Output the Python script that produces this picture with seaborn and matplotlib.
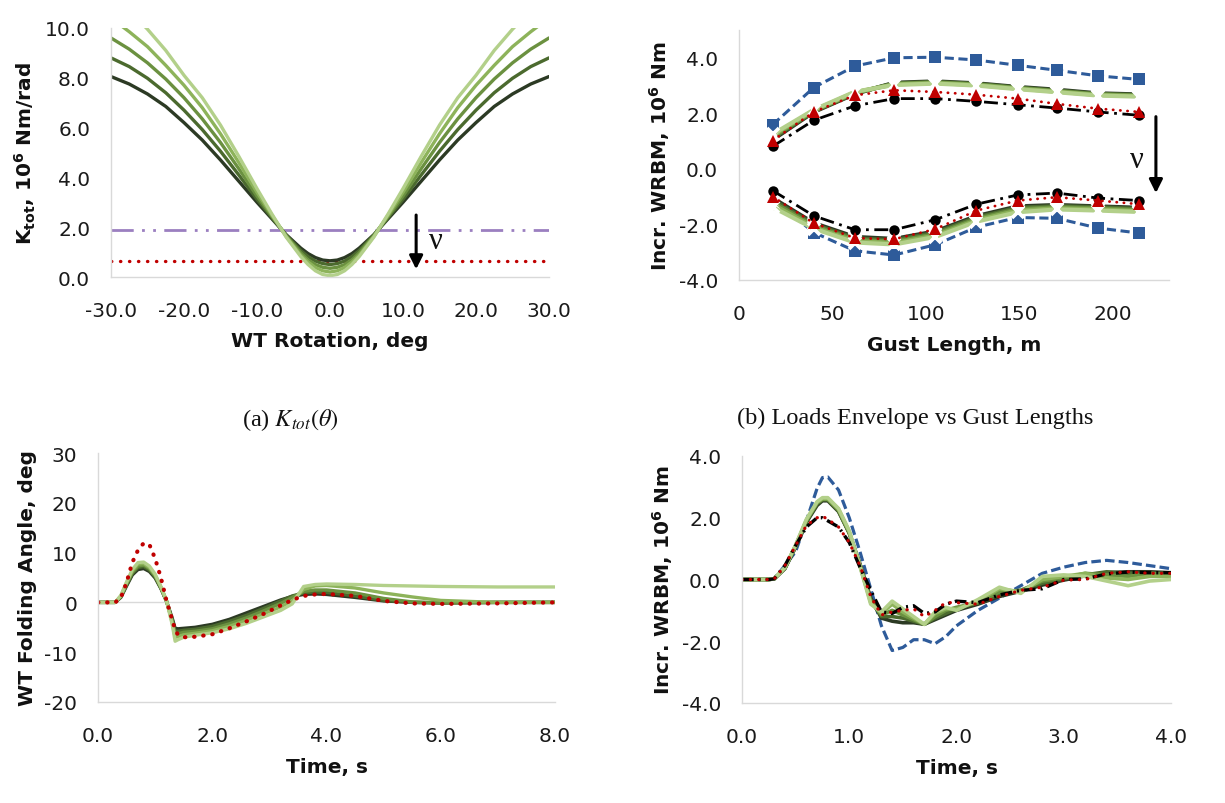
import numpy as np
import pandas as pd
import matplotlib
matplotlib.use("Agg")
import matplotlib.pyplot as plt
import seaborn as sns
from matplotlib.ticker import FormatStrFormatter

sns.set_theme(style="white")
plt.rcParams['font.family'] = ['DejaVu Sans']
plt.rcParams['axes.unicode_minus'] = False
plt.rcParams['mathtext.fontset'] = 'dejavusans'

GREENS = ['#2c3a24', '#4b6a2e', '#6b9140', '#8db35a', '#b3d08a']
RED = '#c00000'
BLUE = '#2e5b9a'
PURPLE = '#9b7fc0'

# ---------------- (a) K_tot(theta) ----------------
theta = [-30, -27.5, -25, -22.5, -20, -17.5, -15, -12.5, -10, -8, -6, -4, -3, -2, -1, 0,
         1, 2, 3, 4, 6, 8, 10, 12.5, 15, 17.5, 20, 22.5, 25, 27.5, 30]
k_tot_0 = [8.05, 7.75, 7.35, 6.85, 6.20, 5.50, 4.70, 3.85, 3.00, 2.35, 1.70, 1.16, 0.94, 0.78, 0.68, 0.65,
           0.68, 0.78, 0.94, 1.16, 1.70, 2.35, 3.00, 3.85, 4.70, 5.50, 6.20, 6.85, 7.35, 7.75, 8.05]
k_tot_1 = [8.80, 8.45, 7.98, 7.40, 6.70, 5.92, 5.05, 4.10, 3.12, 2.40, 1.68, 1.06, 0.82, 0.64, 0.54, 0.50,
           0.54, 0.64, 0.82, 1.06, 1.68, 2.40, 3.12, 4.10, 5.05, 5.92, 6.70, 7.40, 7.98, 8.45, 8.80]
k_tot_2 = [9.60, 9.15, 8.60, 7.95, 7.20, 6.35, 5.40, 4.35, 3.25, 2.45, 1.66, 0.97, 0.69, 0.50, 0.39, 0.35,
           0.39, 0.50, 0.69, 0.97, 1.66, 2.45, 3.25, 4.35, 5.40, 6.35, 7.20, 7.95, 8.60, 9.15, 9.60]
k_tot_3 = [10.4, 9.85, 9.25, 8.50, 7.70, 6.80, 5.75, 4.60, 3.40, 2.50, 1.63, 0.88, 0.60, 0.38, 0.25, 0.20,
           0.25, 0.38, 0.60, 0.88, 1.63, 2.50, 3.40, 4.60, 5.75, 6.80, 7.70, 8.50, 9.25, 9.85, 10.4]
k_tot_4 = [11.35, 10.7, 9.95, 9.10, 8.10, 7.20, 6.10, 4.85, 3.55, 2.55, 1.60, 0.82, 0.50, 0.25, 0.10, 0.05,
           0.10, 0.25, 0.50, 0.82, 1.60, 2.55, 3.55, 4.85, 6.10, 7.20, 8.10, 9.10, 9.95, 10.7, 11.35]
k_const_high = 1.9
k_const_low = 0.64

# ---------------- (b) loads envelope vs gust length ----------------
gust_len = [18, 40, 62, 83, 105, 127, 149, 170, 192, 214]
env_blue_max = [1.59, 2.93, 3.70, 4.00, 4.02, 3.92, 3.73, 3.55, 3.35, 3.22]
env_blue_min = [-1.08, -2.29, -2.95, -3.10, -2.73, -2.10, -1.75, -1.78, -2.13, -2.31]
env_black_max = [0.81, 1.75, 2.27, 2.53, 2.53, 2.43, 2.31, 2.19, 2.05, 1.93]
env_black_min = [-0.78, -1.69, -2.19, -2.19, -1.83, -1.27, -0.94, -0.87, -1.05, -1.14]
env_red_max = [1.02, 2.05, 2.65, 2.83, 2.77, 2.67, 2.53, 2.34, 2.17, 2.05]
env_red_min = [-1.00, -1.95, -2.49, -2.53, -2.17, -1.50, -1.14, -1.02, -1.14, -1.27]
env_green_max = [
    [1.05, 2.05, 2.70, 3.10, 3.15, 3.08, 2.95, 2.85, 2.72, 2.68],
    [1.10, 2.07, 2.72, 3.08, 3.13, 3.06, 2.93, 2.82, 2.70, 2.66],
    [1.15, 2.09, 2.74, 3.06, 3.11, 3.04, 2.91, 2.80, 2.68, 2.64],
    [1.20, 2.11, 2.76, 3.04, 3.09, 3.02, 2.89, 2.78, 2.66, 2.62],
    [1.25, 2.13, 2.78, 3.02, 3.07, 3.00, 2.87, 2.76, 2.64, 2.60],
]
env_green_min = [
    [-1.05, -1.95, -2.45, -2.52, -2.25, -1.70, -1.35, -1.30, -1.35, -1.40],
    [-1.12, -2.00, -2.50, -2.57, -2.30, -1.75, -1.40, -1.34, -1.38, -1.44],
    [-1.20, -2.05, -2.55, -2.62, -2.35, -1.80, -1.45, -1.38, -1.42, -1.48],
    [-1.28, -2.10, -2.60, -2.67, -2.40, -1.85, -1.50, -1.42, -1.46, -1.52],
    [-1.38, -2.15, -2.65, -2.72, -2.45, -1.90, -1.56, -1.46, -1.50, -1.55],
]

# ---------------- (c) WT folding angle time history ----------------
t_fold = [0, 0.3, 0.4, 0.5, 0.6, 0.7, 0.8, 0.9, 1.0, 1.1, 1.2, 1.3, 1.35, 1.4, 1.5, 1.7,
          2.0, 2.3, 2.6, 2.9, 3.2, 3.4, 3.6, 3.8, 4.0, 4.5, 5.0, 5.5, 6.0, 7.0, 8.0]
fold_green = [
    [0, 0, 1.0, 3.3, 5.5, 6.6, 6.8, 6.2, 4.9, 2.8, 0.2, -3.2, -5.2, -5.3, -5.2, -5.0,
     -4.4, -3.4, -2.1, -0.8, 0.5, 1.2, 1.6, 1.7, 1.6, 1.0, 0.3, 0.0, -0.1, 0.0, 0.0],
    [0, 0, 1.1, 3.5, 5.8, 7.0, 7.2, 6.5, 5.1, 2.9, 0.2, -3.5, -5.8, -5.8, -5.6, -5.4,
     -4.8, -3.8, -2.6, -1.2, 0.3, 1.3, 1.9, 2.1, 2.0, 1.3, 0.4, 0.0, -0.1, 0.0, 0.0],
    [0, 0, 1.2, 3.7, 6.0, 7.3, 7.5, 6.8, 5.3, 3.0, 0.3, -3.8, -6.4, -6.3, -6.0, -5.8,
     -5.3, -4.3, -3.1, -1.7, -0.2, 1.0, 2.2, 2.5, 2.5, 1.9, 0.8, 0.1, -0.1, 0.0, 0.0],
    [0, 0, 1.3, 3.9, 6.3, 7.7, 7.8, 7.0, 5.5, 3.1, 0.3, -4.1, -7.0, -6.9, -6.5, -6.2,
     -5.7, -4.8, -3.6, -2.3, -0.9, 0.3, 2.6, 3.3, 3.4, 2.9, 1.9, 1.1, 0.4, 0.0, 0.0],
    [0, 0, 1.4, 4.1, 6.6, 8.0, 8.1, 7.3, 5.7, 3.2, 0.3, -4.5, -7.8, -7.5, -7.0, -6.6,
     -6.1, -5.3, -4.2, -2.9, -1.6, -0.3, 3.2, 3.6, 3.7, 3.6, 3.4, 3.3, 3.2, 3.1, 3.1],
]
fold_red = [0, 0, 0.9, 4.0, 8.0, 10.5, 11.9, 11.6, 8.8, 5.0, 0.3, -3.5, -5.5, -6.5, -7.0, -6.9,
            -6.4, -5.2, -3.8, -2.3, -0.6, 0.5, 1.3, 1.6, 1.7, 1.3, 0.3, -0.2, -0.3, -0.2, 0.0]

# ---------------- (d) WRBM time history ----------------
t_wrbm = [0, 0.25, 0.3, 0.4, 0.5, 0.6, 0.7, 0.75, 0.8, 0.9, 1.0, 1.1, 1.2, 1.3, 1.4, 1.5,
          1.6, 1.7, 1.8, 1.9, 2.0, 2.2, 2.4, 2.6, 2.8, 3.0, 3.2, 3.4, 3.6, 3.8, 4.0]
wrbm_blue = [0, 0, 0.02, 0.45, 0.9, 1.9, 2.95, 3.3, 3.32, 2.9, 2.0, 0.9, -0.3, -1.5, -2.3, -2.2,
             -1.95, -1.95, -2.08, -1.85, -1.5, -1.0, -0.6, -0.2, 0.2, 0.4, 0.55, 0.62, 0.55, 0.45, 0.35]
wrbm_black = [0, 0, 0.02, 0.45, 1.1, 1.7, 2.0, 2.0, 1.9, 1.7, 1.2, 0.4, -0.35, -1.05, -1.1, -0.9,
              -0.85, -1.1, -1.05, -0.8, -0.7, -0.75, -0.5, -0.35, -0.3, 0.0, 0.02, 0.18, 0.24, 0.22, 0.22]
wrbm_red = [0, 0, 0.02, 0.45, 1.1, 1.75, 2.0, 2.05, 1.95, 1.7, 1.2, 0.45, -0.55, -1.15, -1.05, -1.0,
            -0.95, -1.2, -1.0, -0.75, -0.75, -0.8, -0.55, -0.35, -0.25, -0.02, 0.0, 0.2, 0.25, 0.2, 0.2]
wrbm_green = [
    [0, 0, 0.02, 0.35, 1.05, 1.85, 2.4, 2.55, 2.55, 2.2, 1.5, 0.5, -0.6, -1.25, -1.35, -1.4,
     -1.4, -1.45, -1.3, -1.15, -1.0, -0.8, -0.55, -0.38, -0.18, -0.02, 0.12, 0.22, 0.25, 0.25, 0.22],
    [0, 0, 0.02, 0.36, 1.07, 1.88, 2.45, 2.58, 2.58, 2.22, 1.5, 0.48, -0.65, -1.2, -1.2, -1.25,
     -1.35, -1.45, -1.25, -1.1, -0.95, -0.75, -0.5, -0.35, -0.12, 0.02, 0.15, 0.25, 0.2, 0.2, 0.2],
    [0, 0, 0.02, 0.37, 1.09, 1.9, 2.48, 2.6, 2.6, 2.25, 1.52, 0.46, -0.7, -1.15, -1.0, -1.15,
     -1.3, -1.45, -1.2, -1.0, -0.9, -0.75, -0.4, -0.35, -0.05, 0.05, 0.2, 0.15, 0.1, 0.2, 0.15],
    [0, 0, 0.02, 0.38, 1.1, 1.92, 2.5, 2.62, 2.62, 2.28, 1.55, 0.44, -0.75, -1.1, -0.8, -1.05,
     -1.25, -1.45, -1.1, -0.95, -0.95, -0.7, -0.3, -0.4, 0.0, 0.1, 0.2, 0.05, 0.0, 0.1, 0.1],
    [0, 0, 0.02, 0.39, 1.12, 1.95, 2.52, 2.65, 2.65, 2.3, 1.58, 0.42, -0.8, -1.05, -0.7, -0.95,
     -1.2, -1.45, -1.05, -0.9, -1.0, -0.65, -0.25, -0.45, 0.1, 0.15, 0.1, -0.05, -0.2, -0.05, 0.0],
]

W, H = 1225, 804
fig = plt.figure(figsize=(W / 100, H / 100), dpi=100)


def px_axes(left, right, top, bottom):
    return fig.add_axes([left / W, (H - bottom) / H, (right - left) / W, (bottom - top) / H])


def style_axes(ax):
    for s in ['top', 'right']:
        ax.spines[s].set_visible(False)
    for s in ['left', 'bottom']:
        ax.spines[s].set_color('#d9d9d9')
        ax.spines[s].set_linewidth(1.0)
    ax.tick_params(direction='in', length=6, width=1, color='#d9d9d9', pad=15,
                   labelsize=14.5, labelcolor='#1a1a1a')
    ax.tick_params(axis='x', pad=17)
    ax.grid(False)


def line(ax, x, y, **kw):
    sns.lineplot(x=x, y=y, ax=ax, sort=False, estimator=None, **kw)


LABEL_KW = dict(fontsize=14.5, fontweight='bold', color='#111111')
NU_KW = dict(fontfamily='Liberation Serif', fontsize=22, color='#111111')

# ---- panel (a)
ax1 = px_axes(111, 549, 29, 278)
style_axes(ax1)
line(ax1, [theta[0], theta[-1]], [k_const_high, k_const_high], color=PURPLE, lw=2.0,
     linestyle=(0, (8, 3, 1, 3, 1, 3)))
line(ax1, [theta[0], theta[-1]], [k_const_low, k_const_low], color=RED, lw=2.4,
     linestyle=(0, (0.1, 2.6)), dash_capstyle='round')
for k, col in zip([k_tot_0, k_tot_1, k_tot_2, k_tot_3, k_tot_4], GREENS):
    line(ax1, theta, k, color=col, lw=2.4)
ax1.set_xlim(-30, 30)
ax1.set_ylim(0, 10)
ax1.set_xticks(np.arange(-30, 31, 10))
ax1.set_yticks(np.arange(0, 11, 2))
ax1.xaxis.set_major_formatter(FormatStrFormatter('%.1f'))
ax1.yaxis.set_major_formatter(FormatStrFormatter('%.1f'))
ax1.set_xlabel('WT Rotation, deg', labelpad=8, **LABEL_KW)
ax1.set_ylabel(r'K$_\mathbf{tot}$, 10$^\mathbf{6}$ Nm/rad', labelpad=5, **LABEL_KW)
ax1.annotate('', xy=(11.8, 0.2), xytext=(11.8, 2.6),
             arrowprops=dict(arrowstyle='-|>', lw=2.2, color='black', mutation_scale=20))
ax1.text(14.5, 1.45, 'ν', ha='center', va='center', **NU_KW)

# ---- panel (b)
ax2 = px_axes(739, 1169, 31, 281)
style_axes(ax2)
line(ax2, gust_len, env_blue_max, color=BLUE, lw=2.2, linestyle=(0, (3, 1.5)),
     marker='s', markersize=8, markeredgewidth=0)
line(ax2, gust_len, env_blue_min, color=BLUE, lw=2.2, linestyle=(0, (3, 1.5)),
     marker='s', markersize=8, markeredgewidth=0)
for ymax, ymin, col in zip(env_green_max, env_green_min, GREENS):
    line(ax2, gust_len, ymax, color=col, lw=3.0, marker='x', markersize=9, markeredgewidth=2.6)
    line(ax2, gust_len, ymin, color=col, lw=3.0, marker='x', markersize=9, markeredgewidth=2.6)
line(ax2, gust_len, env_black_max, color='black', lw=2.0, linestyle=(0, (5, 2, 1, 2)),
     marker='o', markersize=7.5, markeredgewidth=0)
line(ax2, gust_len, env_black_min, color='black', lw=2.0, linestyle=(0, (5, 2, 1, 2)),
     marker='o', markersize=7.5, markeredgewidth=0)
line(ax2, gust_len, env_red_max, color=RED, lw=2.0, linestyle=(0, (0.1, 2.5)),
     dash_capstyle='round', marker='^', markersize=8.5, markeredgewidth=0)
line(ax2, gust_len, env_red_min, color=RED, lw=2.0, linestyle=(0, (0.1, 2.5)),
     dash_capstyle='round', marker='^', markersize=8.5, markeredgewidth=0)
ax2.set_xlim(0, 230)
ax2.set_ylim(-4, 5)
ax2.set_xticks(np.arange(0, 201, 50))
ax2.set_yticks(np.arange(-4, 5, 2))
ax2.yaxis.set_major_formatter(FormatStrFormatter('%.1f'))
ax2.set_xlabel('Gust Length, m', labelpad=9, **LABEL_KW)
ax2.set_ylabel(r'Incr. WRBM, 10$^\mathbf{6}$ Nm', labelpad=5, **LABEL_KW)
ax2.annotate('', xy=(223, -0.97), xytext=(223, 1.98),
             arrowprops=dict(arrowstyle='-|>', lw=2.2, color='black', mutation_scale=20))
ax2.text(213, 0.35, 'ν', ha='center', va='center', **NU_KW)

# ---- panel (c)
ax3 = px_axes(98, 555, 454, 703)
style_axes(ax3)
ax3.axhline(0, color='#d9d9d9', lw=1.0, zorder=0)
for y, col in zip(fold_green, GREENS):
    line(ax3, t_fold, y, color=col, lw=2.4)
line(ax3, t_fold, fold_red, color=RED, lw=3.0, linestyle=(0, (0.1, 2.1)), dash_capstyle='round')
ax3.set_xlim(0, 8)
ax3.set_ylim(-20, 30)
ax3.set_xticks(np.arange(0, 8.1, 2))
ax3.set_yticks(np.arange(-20, 31, 10))
ax3.xaxis.set_major_formatter(FormatStrFormatter('%.1f'))
ax3.yaxis.set_major_formatter(FormatStrFormatter('%d'))
ax3.set_xlabel('Time, s', labelpad=9, **LABEL_KW)
ax3.set_ylabel('WT Folding Angle, deg', labelpad=5, **LABEL_KW)

# ---- panel (d)
ax4 = px_axes(742, 1171, 457, 704)
style_axes(ax4)
line(ax4, t_wrbm, wrbm_blue, color=BLUE, lw=2.3, linestyle=(0, (3, 1.3)))
for y, col in zip(wrbm_green, GREENS):
    line(ax4, t_wrbm, y, color=col, lw=2.6)
line(ax4, t_wrbm, wrbm_black, color='black', lw=2.4, linestyle=(0, (3.5, 1.5, 0.6, 1.5)))
line(ax4, t_wrbm, wrbm_red, color=RED, lw=2.3, linestyle=(0, (0.1, 2.5)), dash_capstyle='round')
ax4.set_xlim(0, 4)
ax4.set_ylim(-4, 4)
ax4.set_xticks(np.arange(0, 4.1, 1))
ax4.set_yticks(np.arange(-4, 4.1, 2))
ax4.xaxis.set_major_formatter(FormatStrFormatter('%.1f'))
ax4.yaxis.set_major_formatter(FormatStrFormatter('%.1f'))
ax4.set_xlabel('Time, s', labelpad=9, **LABEL_KW)
ax4.set_ylabel(r'Incr. WRBM, 10$^\mathbf{6}$ Nm', labelpad=5, **LABEL_KW)

for ax in (ax1, ax2, ax3, ax4):
    leg = ax.get_legend()
    if leg is not None:
        leg.remove()

# captions
fig.text(290 / W, 1 - 420 / H, r'(a) $K_{tot}(\theta)$', ha='center', va='center',
         fontfamily='Liberation Serif', math_fontfamily='stix', fontsize=17.5, color='#111111')
fig.text(915 / W, 1 - 418 / H, '(b) Loads Envelope vs Gust Lengths', ha='center', va='center',
         fontfamily='Liberation Serif', fontsize=17.5, color='#111111')

fig.savefig('out.png', dpi=100)
